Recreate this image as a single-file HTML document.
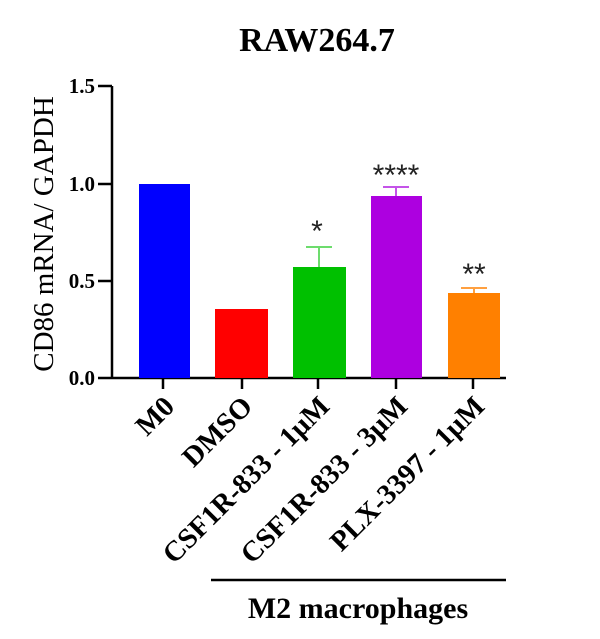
<!DOCTYPE html>
<html><head><style>body{margin:0;background:#fff}svg{display:block}</style></head><body>
<svg width="600" height="639" xmlns="http://www.w3.org/2000/svg" font-family="Liberation Serif, serif">
<text x="317" y="51" font-size="34" font-weight="bold" text-anchor="middle">RAW264.7</text>
<text transform="translate(53,234) rotate(-90)" font-size="29" text-anchor="middle">CD86 mRNA/ GAPDH</text>
<g font-size="21" font-weight="bold" text-anchor="end">
<text x="95" y="93">1.5</text><text x="95" y="191">1.0</text><text x="95" y="288">0.5</text><text x="95" y="385">0.0</text>
</g>
<g stroke="#000" stroke-width="2.5" fill="none">
<path d="M112,86V378M98,86H112M98,184H112M98,281H112M98,378H506"/>
<path d="M163,378V389M242,378V389M318,378V389M396,378V389M473,378V389"/>
<path d="M211,580H506"/>
</g>
<rect x="139" y="184" width="51" height="194" fill="#0000ff"/>
<rect x="215" y="309" width="53" height="69" fill="#ff0000"/>
<rect x="293" y="267" width="53" height="111" fill="#00c000"/>
<rect x="371" y="196" width="51" height="182" fill="#ad00e0"/>
<rect x="448" y="293" width="52" height="85" fill="#ff8000"/>
<g stroke-width="2">
<path d="M319,267V247M306,247H332" stroke="#6ddc6d"/>
<path d="M396,196V187M383,187H409" stroke="#c454e8"/>
<path d="M474,293V288M461,288H487" stroke="#ffa040"/>
</g>
<g font-size="30" font-family="Liberation Sans, sans-serif" text-anchor="middle" fill="#222">
<text x="317" y="241">*</text><text x="396" y="185">****</text><text x="474" y="284">**</text>
</g>
<g font-size="28.5" font-weight="bold" text-anchor="end">
<text transform="translate(176,408) rotate(-45)">M0</text>
<text transform="translate(254,408) rotate(-45)">DMSO</text>
<text transform="translate(331,408) rotate(-45)">CSF1R-833 - 1μM</text>
<text transform="translate(409,408) rotate(-45)">CSF1R-833 - 3μM</text>
<text transform="translate(486,408) rotate(-45)">PLX-3397 - 1μM</text>
</g>
<text x="358" y="618" font-size="30" font-weight="bold" text-anchor="middle">M2 macrophages</text>
</svg>
</body></html>
